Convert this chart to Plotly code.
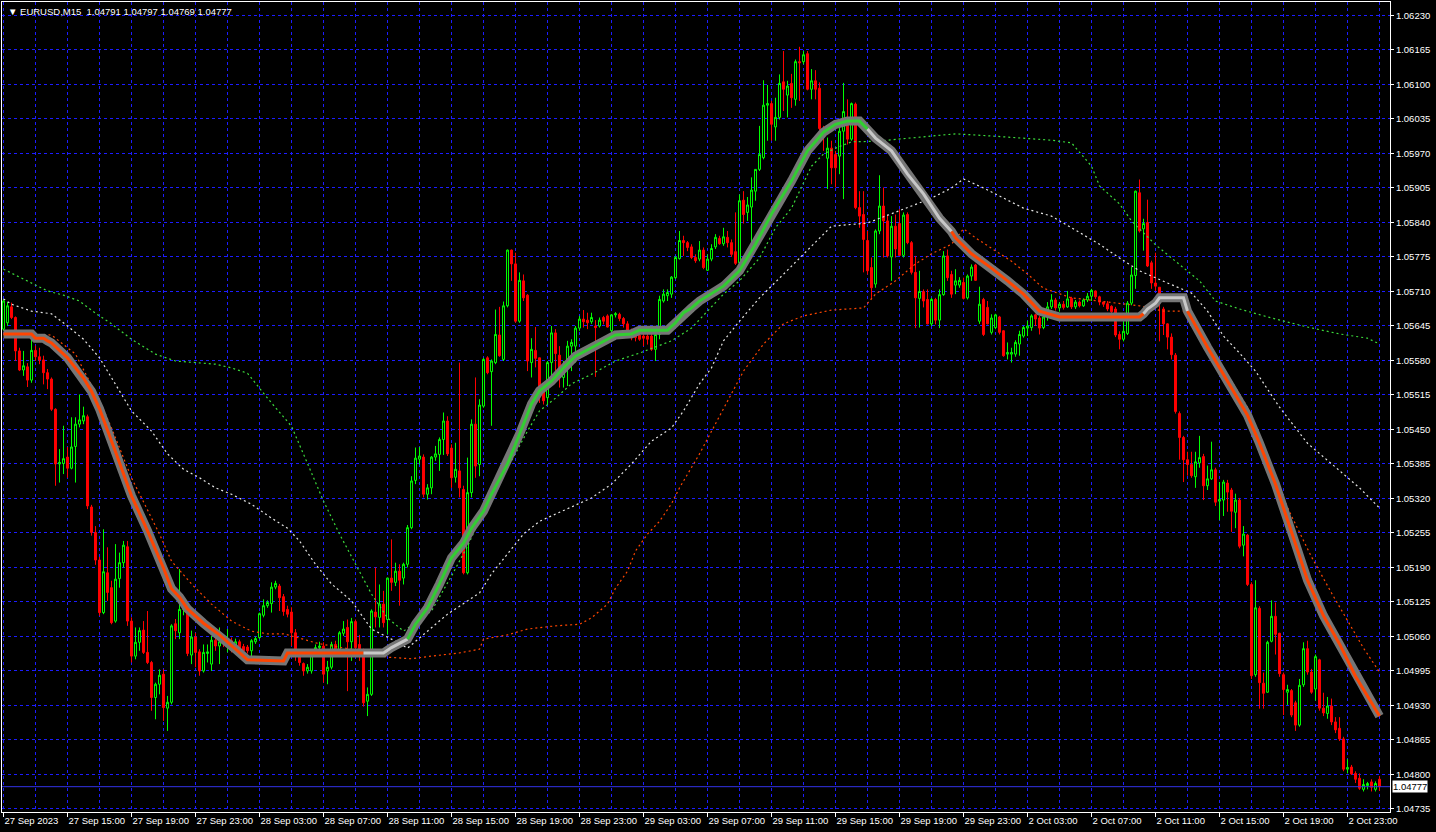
import plotly.graph_objects as go

# ---------------- data ----------------
symbol = "EURUSD,M15"

x_tick_labels = ["27 Sep 2023", "27 Sep 15:00", "27 Sep 19:00", "27 Sep 23:00", "28 Sep 03:00",
                 "28 Sep 07:00", "28 Sep 11:00", "28 Sep 15:00", "28 Sep 19:00", "28 Sep 23:00",
                 "29 Sep 03:00", "29 Sep 07:00", "29 Sep 11:00", "29 Sep 15:00", "29 Sep 19:00",
                 "29 Sep 23:00", "2 Oct 03:00", "2 Oct 07:00", "2 Oct 11:00", "2 Oct 15:00",
                 "2 Oct 19:00", "2 Oct 23:00"]
x_tick_bars = [0, 16, 32, 48, 64, 80, 96, 112, 128, 144, 160, 176, 192, 208, 224, 240,
               256, 272, 288, 304, 320, 336]
x_grid_bars = [8, 24, 40, 56, 72, 88, 104, 120, 136, 152, 168, 184, 200, 216, 232, 248,
               264, 280, 296, 312, 328, 344]

y_tick_labels = ["1.04735", "1.04800", "1.04865", "1.04930", "1.04995", "1.05060", "1.05125",
                 "1.05190", "1.05255", "1.05320", "1.05385", "1.05450", "1.05515", "1.05580",
                 "1.05645", "1.05710", "1.05775", "1.05840", "1.05905", "1.05970", "1.06035",
                 "1.06100", "1.06165", "1.06230"]

# prices in points: price = 1 + pts / 100000
open_pts = [5639,5651,5681,5661,5598,5562,5568,5543,5599,5587,5581,5557,5545,5488,5385,5386,5398,5377,5418,5460,
            5466,5474,5304,5256,5204,5105,5180,5152,5089,5169,5199,5229,5089,5023,5049,5072,5030,5011,4945,4970,
            4989,4925,4936,5084,5067,5111,5105,5025,5059,5031,4995,5028,5008,5053,5042,5050,5049,5052,5042,5050,
            5041,5040,5033,5050,5058,5100,5118,5122,5153,5155,5135,5111,5106,5067,5033,5009,4995,4995,5030,5039,
            5042,4995,5002,5045,5033,5066,5077,5050,5088,5045,5033,4938,4951,5106,5096,5121,5092,5170,5162,5183,
            5170,5196,5265,5354,5394,5398,5328,5340,5398,5403,5431,5466,5415,5360,5372,5337,5180,5331,5460,5384,
            5494,5585,5559,5576,5628,5582,5683,5788,5762,5654,5730,5703,5576,5599,5585,5530,5510,5576,5632,5590,
            5548,5567,5607,5607,5641,5658,5656,5653,5645,5645,5661,5664,5636,5666,5667,5659,5649,5636,5628,5628,
            5626,5626,5626,5601,5629,5692,5702,5705,5736,5772,5806,5802,5794,5774,5771,5788,5750,5771,5794,5810,
            5800,5812,5802,5785,5764,5882,5859,5869,5899,5940,5962,6061,6064,6020,6038,6105,6080,6102,6072,6143,
            6143,6158,6091,6107,6093,6017,5961,5980,5968,5965,6012,6036,5997,6063,5868,5855,5806,5755,5724,5824,
            5871,5843,5775,5833,5838,5778,5855,5802,5746,5697,5710,5695,5649,5695,5656,5704,5777,5742,5722,5722,
            5727,5698,5739,5760,5654,5695,5680,5633,5642,5662,5636,5592,5592,5592,5611,5626,5641,5642,5666,5660,
            5642,5662,5681,5694,5679,5686,5681,5697,5681,5690,5683,5694,5701,5711,5700,5690,5687,5682,5677,5629,
            5620,5631,5688,5740,5896,5828,5840,5764,5726,5718,5677,5649,5624,5590,5480,5435,5393,5384,5361,5387,
            5399,5344,5357,5374,5315,5317,5349,5336,5294,5317,5232,5251,5158,4988,5113,4972,4955,5051,5098,5066,
            4988,4955,4958,4935,4893,4969,5037,4993,4961,5016,4925,4915,4929,4899,4887,4867,4810,4814,4802,4793,
            4772,4779,4786,4772,4791]
high_pts = [5695,5690,5689,5663,5604,5598,5575,5636,5608,5604,5589,5564,5548,5490,5413,5457,5417,5473,5473,5516,
            5493,5478,5308,5268,5210,5262,5228,5165,5234,5218,5240,5240,5096,5077,5077,5089,5108,5014,4973,4998,
            4998,4948,5083,5093,5187,5135,5110,5071,5067,5036,5045,5045,5061,5064,5077,5058,5074,5058,5056,5054,
            5046,5044,5055,5060,5105,5130,5128,5162,5165,5159,5140,5118,5115,5074,5036,5011,5008,5036,5045,5050,
            5049,5014,5050,5052,5070,5089,5092,5095,5092,5063,5037,4964,5111,5190,5158,5146,5171,5243,5199,5196,
            5199,5270,5362,5416,5417,5403,5347,5400,5419,5435,5482,5475,5422,5425,5576,5344,5397,5469,5548,5507,
            5585,5588,5582,5676,5681,5691,5789,5789,5783,5746,5742,5705,5622,5643,5585,5532,5579,5645,5639,5607,
            5579,5617,5620,5645,5664,5675,5670,5670,5656,5661,5664,5667,5667,5671,5670,5662,5654,5640,5632,5632,
            5636,5630,5636,5632,5702,5714,5714,5739,5777,5824,5815,5805,5799,5780,5805,5793,5780,5799,5818,5815,
            5830,5824,5808,5859,5893,5899,5888,5925,5940,6022,6108,6099,6069,6075,6119,6163,6107,6120,6147,6171,
            6163,6163,6129,6127,6104,6022,6000,5994,5975,6022,6103,6072,6066,6066,5899,5899,5824,5774,5827,5929,
            5906,5855,5852,5855,5865,5859,5859,5805,5777,5749,5714,5714,5698,5698,5714,5786,5789,5749,5752,5737,
            5736,5742,5761,5762,5719,5698,5692,5667,5668,5664,5637,5614,5604,5618,5636,5645,5655,5667,5668,5664,
            5667,5690,5705,5698,5690,5692,5711,5700,5694,5693,5697,5707,5715,5712,5702,5690,5692,5684,5681,5635,
            5654,5692,5756,5900,5921,5847,5883,5768,5783,5718,5681,5650,5631,5594,5484,5438,5408,5408,5408,5438,
            5404,5382,5427,5378,5351,5355,5355,5340,5329,5321,5268,5253,5162,5166,5117,4992,5052,5128,5124,5067,
            4992,4969,4961,4939,4980,5049,5052,4999,5026,5018,4954,4946,4943,4908,4908,4871,4829,4818,4806,4802,
            4791,4786,4791,4787,4797]
low_pts = [5636,5645,5658,5579,5560,5551,5530,5538,5579,5573,5535,5526,5485,5344,5350,5366,5359,5375,5350,5454,
           5460,5300,5250,5195,5099,5102,5127,5083,5086,5152,5190,5080,5011,5017,5033,5027,5008,4920,4904,4951,
           4901,4882,4932,5055,5055,5100,5023,5008,5002,4986,4992,5011,4995,5033,5008,5040,5030,5030,5036,5030,
           5026,5028,5020,5046,5055,5096,5114,5105,5149,5108,5099,5096,5042,5014,5005,4986,4990,4990,5027,5033,
           4973,4970,4998,5028,5030,5061,4957,5014,5030,5014,4928,4910,4948,5077,5077,5077,5064,5146,5155,5118,
           5158,5190,5262,5347,5384,5322,5318,5328,5391,5372,5402,5400,5340,5350,5322,5177,5177,5322,5359,5362,
           5491,5554,5457,5573,5587,5579,5680,5730,5651,5651,5692,5560,5548,5567,5500,5497,5497,5548,5548,5529,
           5529,5532,5560,5576,5636,5642,5639,5649,5549,5642,5648,5642,5632,5661,5654,5642,5629,5618,5616,5617,
           5607,5610,5598,5579,5620,5689,5692,5698,5733,5770,5777,5786,5771,5764,5767,5752,5749,5767,5790,5798,
           5796,5793,5775,5760,5762,5838,5843,5802,5881,5937,5959,5994,5994,5994,6034,6050,6038,6056,6060,6069,
           6138,6089,6072,6072,6014,5975,5903,5912,5906,5931,5884,5987,5994,5865,5830,5746,5742,5698,5717,5818,
           5774,5774,5730,5774,5777,5774,5799,5742,5641,5642,5680,5648,5645,5648,5641,5702,5730,5698,5705,5717,
           5695,5695,5730,5730,5649,5626,5648,5629,5639,5629,5587,5582,5576,5587,5589,5623,5626,5636,5645,5629,
           5639,5655,5677,5674,5672,5676,5679,5677,5677,5680,5681,5690,5692,5696,5684,5681,5673,5665,5624,5601,
           5616,5628,5684,5715,5821,5787,5756,5715,5711,5616,5628,5601,5582,5480,5393,5351,5363,5359,5340,5378,
           5317,5336,5355,5306,5279,5287,5295,5257,5264,5226,5211,5155,4980,4984,4924,4924,4954,5049,5026,4984,
           4912,4931,4908,4882,4890,4965,4988,4952,4939,4920,4910,4905,4893,4878,4863,4806,4802,4799,4784,4771,
           4768,4772,4768,4768,4769]
close_pts = [5692,5683,5661,5598,5562,5570,5543,5599,5587,5581,5557,5545,5488,5385,5388,5395,5377,5417,5460,5468,
             5476,5306,5256,5204,5105,5182,5143,5086,5168,5199,5232,5089,5023,5049,5071,5030,5011,4945,4970,4987,
             4926,4936,5080,5071,5111,5118,5028,5059,5030,4995,5030,5031,5053,5042,5050,5047,5055,5042,5050,5036,
             5033,5033,5052,5056,5103,5118,5124,5153,5160,5133,5107,5102,5067,5033,5011,4995,5002,5033,5039,5042,
             4989,5002,5045,5033,5067,5074,5050,5088,5039,5033,4935,4951,5108,5097,5121,5086,5170,5162,5183,5166,
             5196,5265,5353,5396,5400,5328,5340,5398,5404,5431,5466,5404,5359,5375,5340,5180,5331,5460,5381,5496,
             5582,5557,5579,5629,5589,5683,5788,5762,5654,5731,5698,5579,5601,5584,5529,5504,5576,5632,5593,5560,
             5567,5607,5614,5641,5658,5653,5651,5661,5642,5656,5654,5643,5666,5668,5659,5649,5636,5623,5623,5620,
             5622,5620,5601,5629,5695,5705,5708,5737,5774,5806,5802,5793,5774,5768,5788,5755,5771,5791,5812,5800,
             5813,5802,5780,5763,5881,5855,5873,5901,5940,5968,6061,6064,6025,6038,6102,6091,6097,6075,6143,6141,
             6156,6091,6107,6091,6017,6012,5980,5943,5943,6012,6049,5997,6064,5868,5852,5808,5749,5717,5824,5871,
             5843,5777,5833,5790,5778,5854,5802,5746,5698,5710,5692,5649,5695,5656,5704,5777,5736,5705,5730,5731,
             5697,5739,5756,5731,5686,5629,5649,5660,5666,5633,5589,5595,5595,5614,5629,5642,5645,5664,5658,5641,
             5662,5681,5694,5679,5686,5680,5696,5681,5690,5683,5694,5701,5712,5700,5690,5686,5677,5672,5628,5620,
             5635,5688,5741,5899,5824,5838,5758,5726,5720,5703,5649,5624,5591,5484,5435,5393,5384,5363,5389,5397,
             5344,5357,5374,5313,5318,5351,5332,5296,5317,5230,5253,5158,4986,5114,4973,4953,5049,5098,5064,4990,
             4960,4960,4912,4893,4968,5037,4993,4955,5022,4925,4916,4929,4899,4884,4867,4810,4813,4801,4791,4774,
             4781,4783,4776,4783,4777]

# thick smoothed trend line (vertices: bar index, points)
ma_idx = [0,7,8,10,11,12,16,20,22,24,28,32,36,40,42,44,46,50,54,58,
          61,70,71,86,90,95,97,101,103,106,109,112,115,117,120,122,126,129,132,134,
          137,140,143,147,151,153,157,159,166,168,170,172,174,180,184,188,192,197,201,205,
          208,211,214,216,218,222,226,230,234,237,238,242,247,251,255,259,264,284,285,286,
          288,289,295,296,301,306,311,314,318,322,326,330,334,338,344]
ma_pts = [5630,5630,5622,5622,5617,5613,5585,5547,5522,5489,5408,5325,5259,5189,5150,5134,5112,5085,5063,5036,
          5016,5014,5029,5029,5029,5029,5039,5055,5083,5114,5159,5208,5236,5264,5296,5328,5385,5441,5498,5523,
          5541,5566,5588,5604,5620,5628,5630,5637,5637,5651,5670,5679,5692,5720,5749,5799,5856,5918,5975,6010,
          6025,6031,6031,6016,5999,5975,5931,5894,5848,5823,5811,5781,5754,5730,5705,5673,5662,5662,5668,5677,
          5688,5698,5698,5673,5605,5541,5477,5424,5347,5257,5166,5099,5046,4985,4910]
ma_phase_start = [0, 90, 101, 216, 237, 285, 296]
ma_phase = ["down", "flat", "up", "flat", "down", "flat", "down"]

# dotted lines
green_idx = [0,11,15,19,23,27,32,38,43,49,53,57,61,66,72,76,80,84,88,92,
             96,100,107,112,116,120,124,127,131,134,138,142,147,153,159,167,172,180,184,189,
             193,197,202,205,208,212,218,226,238,247,255,262,267,272,274,279,282,288,293,299,
             303,309,317,326,334,341,344]
green_pts = [5752,5711,5703,5692,5669,5649,5620,5592,5579,5575,5573,5566,5556,5509,5456,5386,5315,5253,5196,5140,
             5095,5070,5108,5174,5230,5296,5353,5391,5447,5485,5509,5536,5554,5579,5594,5617,5641,5705,5730,5773,
             5830,5867,5946,5969,5980,5992,5993,5999,6007,6003,5999,5995,5990,5946,5909,5875,5843,5798,5767,5730,
             5692,5677,5660,5643,5630,5622,5611]
white_idx = [0,2,7,12,16,20,24,28,32,37,41,45,49,53,57,62,67,71,74,78,
             82,87,92,97,101,106,111,116,119,122,126,130,134,141,147,152,157,162,167,170,
             174,177,180,184,189,194,199,204,207,216,222,227,232,237,240,245,250,255,262,274,
             279,284,291,297,301,305,309,313,319,326,333,339,344]
white_pts = [5696,5686,5673,5668,5645,5620,5585,5536,5485,5447,5404,5375,5359,5340,5328,5309,5283,5264,5240,5196,
             5159,5127,5074,5055,5038,5070,5102,5127,5142,5178,5215,5253,5277,5300,5321,5347,5385,5428,5453,5485,
             5536,5566,5617,5654,5698,5735,5773,5811,5833,5839,5856,5871,5886,5905,5922,5905,5886,5867,5852,5799,
             5773,5749,5726,5707,5673,5626,5594,5560,5492,5424,5379,5340,5302]
red_idx = [0,12,18,24,27,32,39,42,47,52,57,62,66,70,74,78,82,87,96,102,
           107,114,119,120,126,131,138,144,147,151,153,156,158,161,164,167,169,172,174,185,
           190,195,200,207,215,218,223,228,232,237,240,243,247,252,256,260,267,274,284,290,
           295,301,306,311,317,322,327,332,336,340,344]
red_pts = [5630,5628,5592,5504,5453,5359,5253,5202,5159,5121,5089,5070,5065,5065,5057,5048,5042,5036,5021,5018,
           5023,5029,5036,5055,5063,5074,5080,5083,5095,5121,5151,5183,5221,5253,5277,5310,5340,5377,5404,5560,
           5611,5649,5664,5675,5679,5705,5730,5762,5781,5799,5828,5811,5792,5767,5743,5716,5698,5692,5683,5673,
           5673,5617,5553,5492,5370,5287,5210,5142,5089,5038,4993]


def px(values):
    return [1 + v / 100000 for v in values]


# ---------------- figure ----------------
GRID = "#1C1CFF"
FONT = "Liberation Sans, Arial, sans-serif"
phase_color = {"down": "#FF4500", "up": "#32CD32", "flat": "#C8C8C8"}
n = len(open_pts)
bars = list(range(n))

fig = go.Figure()

fig.add_trace(go.Candlestick(
    x=bars, open=px(open_pts), high=px(high_pts), low=px(low_pts), close=px(close_pts),
    increasing=dict(line=dict(color="#00FF00", width=1), fillcolor="#000000"),
    decreasing=dict(line=dict(color="#FF0000", width=1), fillcolor="#FF0000"),
    whiskerwidth=0, hoverinfo="skip", showlegend=False))

for idx, pts, col in [(green_idx, green_pts, "#3CDC3C"),
                      (white_idx, white_pts, "#E6E6E6"),
                      (red_idx, red_pts, "#FF4500")]:
    fig.add_trace(go.Scatter(x=idx, y=px(pts), mode="lines",
                             line=dict(color=col, width=1.2, dash="2px,3px"),
                             hoverinfo="skip", showlegend=False))

# thick line: outline then coloured core per phase
fig.add_trace(go.Scatter(x=ma_idx, y=px(ma_pts), mode="lines",
                         line=dict(color="#767676", width=9),
                         hoverinfo="skip", showlegend=False))
for k, start in enumerate(ma_phase_start):
    end = ma_phase_start[k + 1] if k + 1 < len(ma_phase_start) else ma_idx[-1]
    sel = [j for j, b in enumerate(ma_idx) if start <= b <= end]
    fig.add_trace(go.Scatter(x=[ma_idx[j] for j in sel], y=px([ma_pts[j] for j in sel]),
                             mode="lines", line=dict(color=phase_color[ma_phase[k]], width=3),
                             hoverinfo="skip", showlegend=False))

last_o, last_h, last_l, last_c = (1 + open_pts[-1] / 1e5, 1 + high_pts[-1] / 1e5,
                                  1 + low_pts[-1] / 1e5, 1 + close_pts[-1] / 1e5)

fig.add_shape(type="line", xref="paper", x0=0, x1=1, yref="y", y0=last_c, y1=last_c,
              line=dict(color="#3232E6", width=1))

fig.add_annotation(xref="paper", x=1, yref="y", y=last_c, xanchor="left", yanchor="middle",
                   xshift=2, text=f"{last_c:.5f}", showarrow=False,
                   bgcolor="#FFFFFF", borderpad=0,
                   font=dict(color="#000000", size=9.5, family=FONT))

fig.add_annotation(xref="paper", x=0, yref="paper", y=1, xanchor="left", yanchor="top",
                   xshift=4, yshift=-2, showarrow=False,
                   text=f"\u25bc {symbol}\u00a0\u00a0{last_o:.5f} {last_h:.5f} {last_l:.5f} {last_c:.5f}",
                   font=dict(color="#FFFFFF", size=9.5, family=FONT))

fig.update_layout(
    width=1436, height=832,
    margin=dict(l=2, r=46, t=2, b=20, autoexpand=False),
    paper_bgcolor="#000000", plot_bgcolor="#000000",
    showlegend=False,
    font=dict(family=FONT, size=9.5, color="#FFFFFF"),
    xaxis=dict(
        range=[-0.375, 346.625], rangeslider=dict(visible=False),
        tickmode="array", tickvals=x_tick_bars, ticktext=x_tick_labels, tickangle=0,
        ticks="outside", ticklen=4, tickcolor="#FFFFFF", ticklabelposition="outside right",
        showgrid=True, gridcolor=GRID, griddash="3px,3px", gridwidth=1,
        minor=dict(tickmode="array", tickvals=x_grid_bars, showgrid=True, gridcolor=GRID,
                   griddash="3px,3px", gridwidth=1, ticks=""),
        showline=True, linecolor="#FFFFFF", linewidth=1, mirror=True, zeroline=False,
        fixedrange=True, automargin=False),
    yaxis=dict(
        side="right", range=[1.047293, 1.062554],
        tickmode="array", tickvals=[float(s) for s in y_tick_labels], ticktext=y_tick_labels,
        ticks="outside", ticklen=3, tickcolor="#FFFFFF",
        showgrid=True, gridcolor=GRID, griddash="3px,3px", gridwidth=1,
        showline=True, linecolor="#FFFFFF", linewidth=1, mirror=True, zeroline=False,
        fixedrange=True, automargin=False),
)

# page set-up: no body margin, grid lines snapped to whole pixels (like the terminal draws them)
post_js = """
document.body.style.margin='0';document.body.style.padding='0';
var gd=document.querySelector('.plotly-graph-div');
gd.querySelectorAll('path.xgrid, path.ygrid').forEach(function(p){
  p.style.shapeRendering='crispEdges';
  var t=p.getAttribute('transform');
  if(!t){return;}
  var m=t.match(/translate\\(([-0-9.e]+)[ ,]+([-0-9.e]+)\\)/);
  if(!m){return;}
  var x=parseFloat(m[1]), y=parseFloat(m[2]);
  if(p.classList.contains('xgrid')){x=Math.floor(x)+0.5;}else{y=Math.floor(y)+0.5;}
  p.setAttribute('transform','translate('+x+','+y+')');
});
"""

fig.write_html("out.html", config={"displayModeBar": False, "staticPlot": True},
               post_script=post_js)
